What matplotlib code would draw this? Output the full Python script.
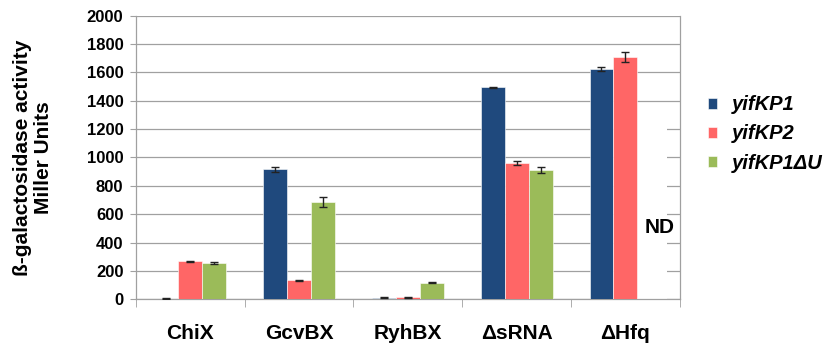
import numpy as np
import matplotlib.pyplot as plt
from matplotlib.ticker import FixedLocator

plt.rcParams["font.family"] = ["Liberation Sans", "DejaVu Sans"]

categories = ["ChiX", "GcvBX", "RyhBX", "\u0394sRNA", "\u0394Hfq"]
series = ["yifKP1", "yifKP2", "yifKP1\u0394U"]
p1 = [5, 917, 12, 1495, 1624]
p1_err = [3, 17, 3, 4, 14]
p2 = [268, 134, 15, 959, 1709]
p2_err = [3, 4, 3, 15, 37]
p1du = [254, 686, 117, 910, np.nan]
p1du_err = [7, 32, 3, 20, np.nan]
nd_height = 1300  # blank (ND) column for dHfq / yifKP1dU
yticks = np.arange(0, 2001, 200)

colors = ["#1F497D", "#FF6666", "#9BBB59"]
grid_c = "#a0a0a0"

fig = plt.figure(figsize=(8.29, 3.47), dpi=100)
ax = fig.add_axes([0.164, 0.1375, 0.656, 0.8175])

x = np.arange(len(categories))
w = 0.22
vals = [p1, p2, p1du]
errs = [p1_err, p2_err, p1du_err]
for i, (v, e, c, name) in enumerate(zip(vals, errs, colors, series)):
    ax.bar(x + (i - 1) * w, v, w, color=c, edgecolor="white", linewidth=0.4,
           label=name, zorder=3)
    ax.errorbar(x + (i - 1) * w, v, yerr=e, fmt="none", ecolor="#222222",
                elinewidth=1, capsize=3, capthick=1, zorder=4)

# white column hiding the gridlines where no data
ax.bar(x[4] + w, nd_height, w * 1.5, color="white", zorder=2)
ax.text(x[4] + w * 1.45, 505, "ND", fontsize=15, fontweight="bold",
        ha="center", va="center", zorder=5)

ax.set_xlim(-0.5, len(categories) - 0.5)
ax.set_ylim(0, 2000)
ax.set_yticks(yticks)
ax.set_yticklabels([str(t) for t in yticks], fontsize=12, fontweight="bold")
ax.yaxis.grid(True, color=grid_c, linewidth=0.9, zorder=0)
ax.set_axisbelow(True)
ax.set_xticks(x)
ax.set_xticklabels(categories, fontsize=15, fontweight="bold")
ax.xaxis.set_minor_locator(FixedLocator(np.arange(-0.5, len(categories), 1)))
ax.tick_params(axis="x", which="major", length=0, pad=18)
ax.tick_params(axis="x", which="minor", length=6, color=grid_c)
ax.tick_params(axis="y", length=4, color=grid_c, pad=5)
for s in ["left", "right", "bottom"]:
    ax.spines[s].set_color(grid_c)
    ax.spines[s].set_linewidth(0.9)
ax.spines["top"].set_visible(False)

ax.set_ylabel("\u00df-galactosidase activity\nMiller Units", fontsize=15,
              fontweight="bold", labelpad=24, linespacing=1.15)

leg = fig.legend(loc="center left", bbox_to_anchor=(0.854, 0.614), frameon=False,
                 prop={"family": "Liberation Sans", "size": 14.5, "weight": "bold",
                       "style": "italic"},
                 handlelength=0.45, handleheight=0.45, handletextpad=0.75,
                 labelspacing=0.5, borderaxespad=0, borderpad=0)

fig.savefig("out.png", dpi=100)
